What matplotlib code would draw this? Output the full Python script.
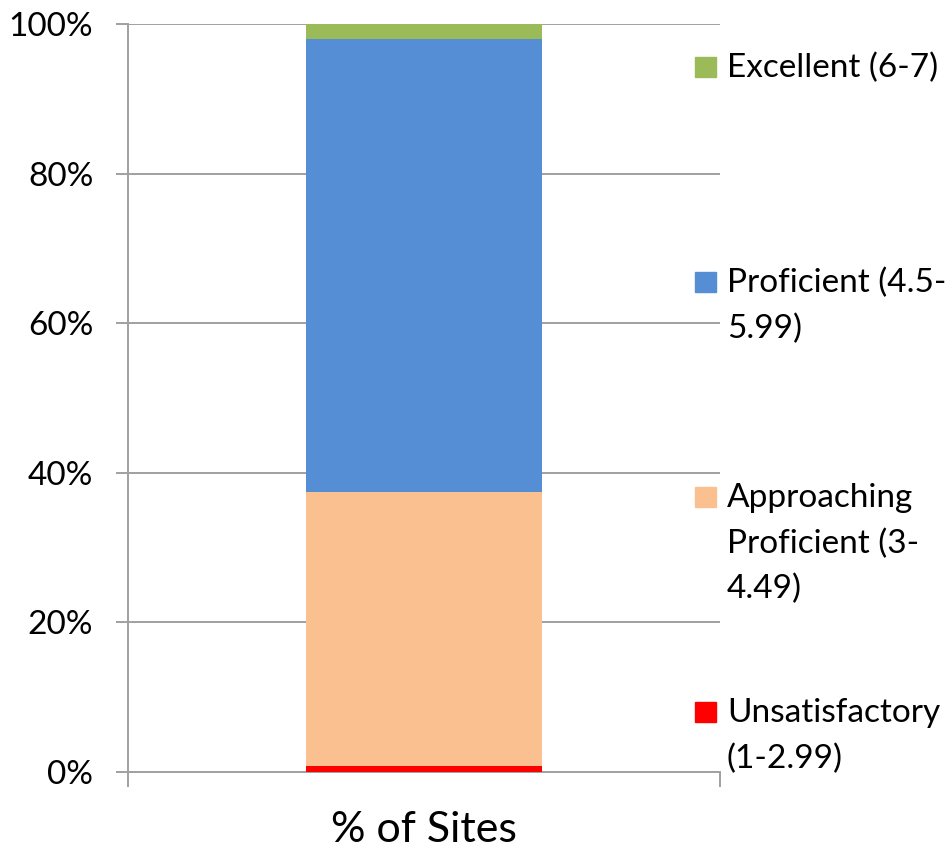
import matplotlib
matplotlib.use("Agg")
from matplotlib import pyplot as plt
from matplotlib.patches import Rectangle
from matplotlib.ticker import PercentFormatter

plt.rcParams['font.family'] = ['Lato', 'DejaVu Sans']

category = "% of Sites"
levels = [["Unsatisfactory", "(1-2.99)"],
          ["Approaching", "Proficient (3-", "4.49)"],
          ["Proficient (4.5-", "5.99)"],
          ["Excellent (6-7)"]]
values = [0.8, 36.6, 60.6, 2.0]   # percent of sites, bottom to top
colors = ["#FF0000", "#FAC090", "#558ED5", "#9BBB59"]
yticks = [0, 20, 40, 60, 80, 100]

grid_c = "#A0A0A0"

fig = plt.figure(figsize=(9.52, 8.52), dpi=100)
ax = fig.add_axes([128/952, 1-772/852, 592/952, 748/852])

bottom = 0
for v, c in zip(values, colors):
    ax.bar(0, v, width=0.4, bottom=bottom, color=c, zorder=3)
    bottom += v

ax.set_xlim(-0.5, 0.5)
ax.set_ylim(0, 100)
ax.set_yticks(yticks)
ax.yaxis.set_major_formatter(PercentFormatter(decimals=0))
ax.grid(axis='y', color=grid_c, linewidth=1.4, zorder=0)

ax.set_xticks([0])
ax.set_xticklabels([category], fontsize=31)
ax.set_xticks(ax.get_xlim(), minor=True)
ax.tick_params(axis='x', which='major', length=0, pad=28)
ax.tick_params(axis='x', which='minor', length=11, width=1.4, color=grid_c)
ax.tick_params(axis='y', length=9, width=1.4, color=grid_c, labelsize=24, pad=16)

for s in ['top', 'right']:
    ax.spines[s].set_visible(False)
for s in ['left', 'bottom']:
    ax.spines[s].set_color(grid_c)
    ax.spines[s].set_linewidth(1.4)

# legend, drawn Excel-style with the marker on the first line of each entry
leg_base = [0.0668, 0.3543, 0.6417, 0.9291]
line_pitch = 33  # points between wrapped lines
for lines, c, yb in zip(levels, colors, leg_base):
    ax.add_patch(Rectangle((0.9578, yb), 0.0355, 0.0267, transform=ax.transAxes,
                           color=c, clip_on=False, zorder=5))
    for k, line in enumerate(lines):
        ax.annotate(line, xy=(1.0118, yb), xycoords='axes fraction',
                    xytext=(0, -k * line_pitch), textcoords='offset points',
                    fontsize=24, va='baseline', ha='left', zorder=5)

plt.savefig('out.png', dpi=100)
